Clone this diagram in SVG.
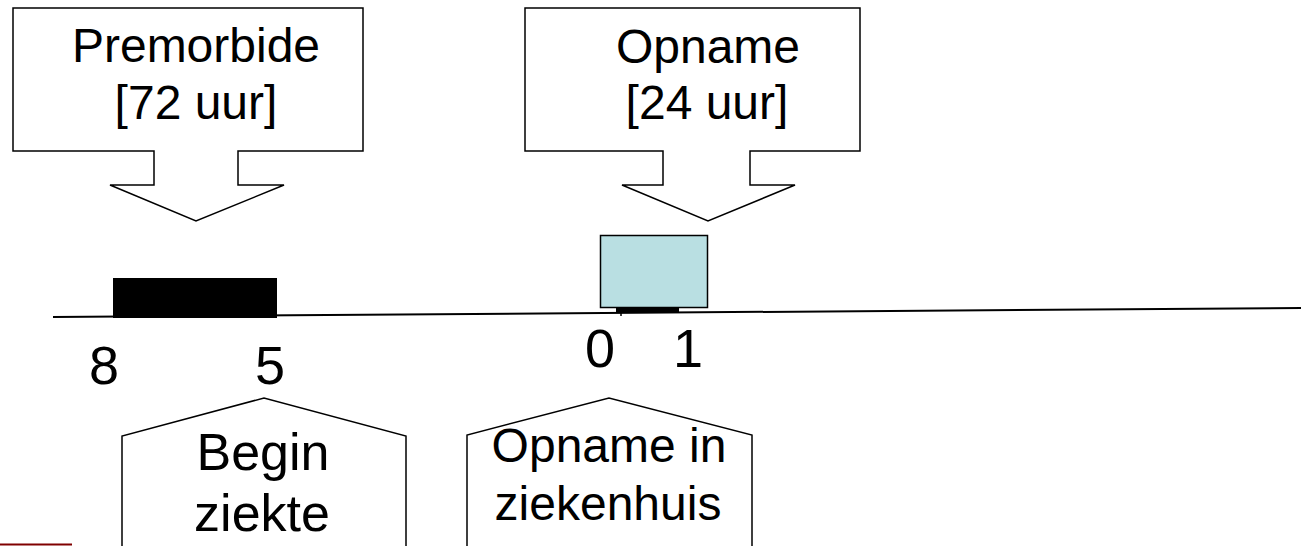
<svg xmlns="http://www.w3.org/2000/svg" width="1301" height="546" viewBox="0 0 1301 546">
<style>
.shape{fill:#ffffff;stroke:#000000;stroke-width:1.5;stroke-linejoin:miter}
.t{font-family:"Liberation Sans",Arial,sans-serif;fill:#000000;text-anchor:middle}
.f48{font-size:48px}
.f52{font-size:52px}
.f54{font-size:54px}
</style>
<rect x="0" y="0" width="1301" height="546" fill="#ffffff"/>
<g id="connectors">
<line x1="53" y1="317" x2="1301" y2="308" stroke="#000000" stroke-width="2"/>
<line x1="621" y1="311" x2="621" y2="316" stroke="#000000" stroke-width="1.5"/>
</g>
<g id="bar-premorbide">
<rect x="113" y="278" width="164" height="40" fill="#000000"/>
</g>
<g id="bar-opname">
<rect x="616" y="306" width="63" height="6" fill="#000000"/>
<rect x="600.5" y="235.5" width="107" height="72" fill="#b9dfe2" stroke="#000000" stroke-width="1.5"/>
</g>
<g id="callout-premorbide">
<path class="shape" d="M13,8 H363 V151 H238 V185 H284 L196,221 L110,185 H154 V151 H13 Z"/>
<text class="t f48" x="196" y="62">Premorbide</text>
<text class="t f48" x="196" y="119">[72 uur]</text>
</g>
<g id="callout-opname">
<path class="shape" d="M525,8 H860 V151 H750 V185 H795 L708,221 L622,185 H663 V151 H525 Z"/>
<text class="t f48" x="708" y="63">Opname</text>
<text class="t f48" x="707" y="119">[24 uur]</text>
</g>
<g id="tick-labels">
<text class="t f54" x="104" y="384">8</text>
<text class="t f54" x="270" y="384">5</text>
<text class="t f54" x="600" y="367">0</text>
<text class="t f54" x="688" y="367">1</text>
</g>
<g id="callout-begin">
<path class="shape" d="M122,552 V436 L264,398 L406,436 V552"/>
<text class="t f52" x="263" y="470">Begin</text>
<text class="t f52" x="262" y="531">ziekte</text>
</g>
<g id="callout-opname-ziekenhuis">
<path class="shape" d="M467,552 V435 L609,398 L752,435 V552"/>
<text class="t f48" x="609" y="462">Opname in</text>
<text class="t f48" x="608" y="520">ziekenhuis</text>
</g>
<g id="corner-mark">
<line x1="0" y1="544.5" x2="72" y2="544.5" stroke="#800000" stroke-width="2"/>
</g>
</svg>
